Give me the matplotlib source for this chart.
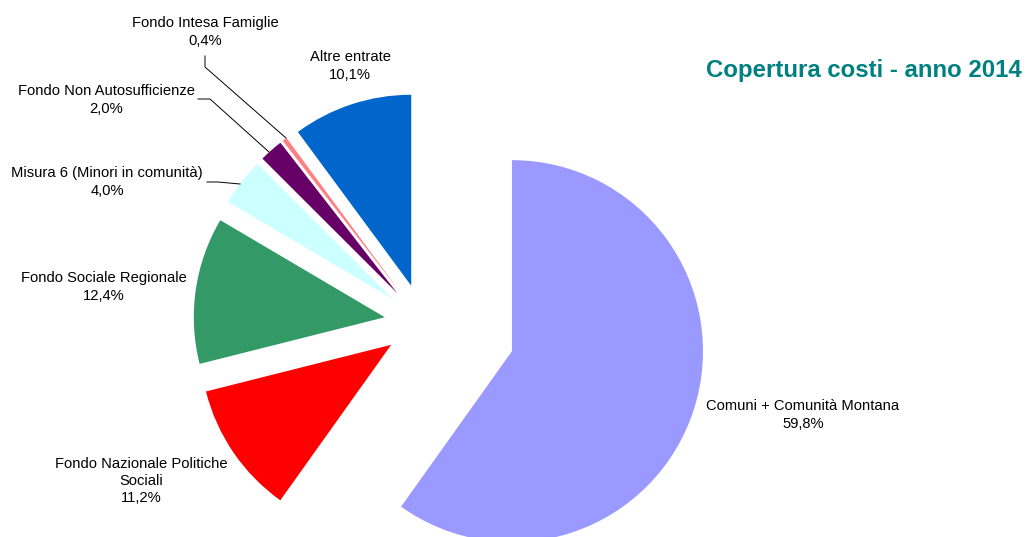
import matplotlib
matplotlib.use("Agg")
import matplotlib.pyplot as plt

plt.rcParams["font.family"] = ["Liberation Sans", "DejaVu Sans"]

# Funding sources, clockwise from 12 o'clock
categories = [
    "Comuni + Comunità Montana",
    "Fondo Nazionale Politiche\nSociali",
    "Fondo Sociale Regionale",
    "Misura 6 (Minori in comunità)",
    "Fondo Non Autosufficienze",
    "Fondo Intesa Famiglie",
    "Altre entrate",
]
shares = [59.8, 11.2, 12.4, 4.0, 2.0, 0.4, 10.1]
colors = ["#9999FF", "#FF0000", "#339966", "#CCFFFF", "#660066", "#FF8080", "#0066CC"]
title = "Copertura costi - anno 2014"

W, H = 1028, 537
fig = plt.figure(figsize=(W / 100, H / 100), dpi=100)
ax = fig.add_axes([0, 0, 1, 1])

radius = 191
explode = [93, 39, 39, 39, 39, 39, 39]
ax.pie(shares, colors=colors, startangle=90, counterclock=False,
       radius=radius, center=(423.4, H - 322.8), explode=explode,
       wedgeprops=dict(linewidth=0))
ax.set_xlim(0, W)
ax.set_ylim(0, H)
ax.set_aspect("equal")
ax.axis("off")


def pct(v):
    return f"{v:.1f}%".replace(".", ",")


# label block centres (x, y from top)
label_pos = [(803, 415), (141, 481), (104, 287), (107, 182),
             (106, 100), (205, 32), (350, 66)]
for name, v, (x, y) in zip(categories, shares, label_pos):
    ax.text(x, H - y, f"{name}\n{pct(v)}", ha="center", va="center",
            fontsize=10.6, linespacing=1.28, color="#000000")

# leader lines for the thin slices
leaders = [
    ([207, 218, 240], [182, 182, 184]),
    ([198, 210, 269], [99, 99, 152]),
    ([205, 205, 286], [56, 67, 138]),
]
for xs, ys in leaders:
    ax.plot(xs, [H - y for y in ys], color="#000000", linewidth=0.7)

ax.text(864, H - 71, title, ha="center", va="center", fontsize=17.3,
        fontweight="bold", color="#008080")

fig.savefig("out.png", dpi=100)
